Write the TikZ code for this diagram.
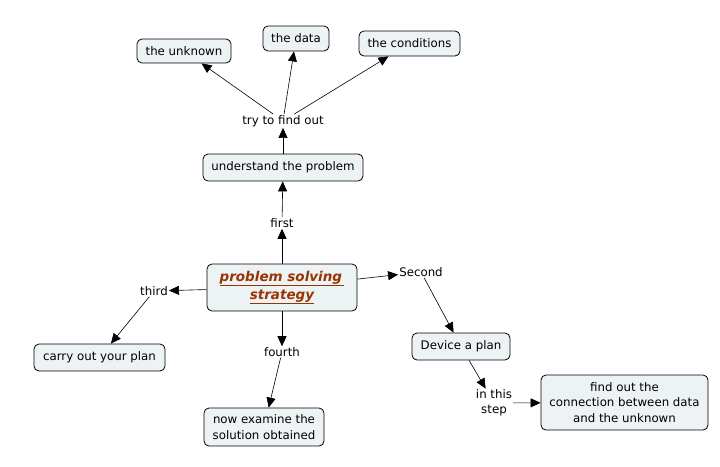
\documentclass[tikz,border=0pt]{standalone}
\usepackage{fontspec}
\setmainfont{DejaVu Sans}
\usetikzlibrary{arrows.meta}
\definecolor{boxfill}{HTML}{EDF3F5}
\definecolor{maintext}{HTML}{993300}
\tikzset{
  concept/.style={draw=black, fill=boxfill, rounded corners=5pt, line width=0.8pt, align=center, inner sep=2pt, font=\fontsize{11.8}{15.3}\selectfont},
  linkph/.style={fill=white, inner sep=1pt, align=center, font=\fontsize{11.8}{15}\selectfont},
  conn/.style={-{Triangle[length=10pt,width=9pt]}, line width=0.6pt},
}
\begin{document}
\begin{tikzpicture}[x=1pt,y=-1pt]
\useasboundingbox (0,0) rectangle (720,466);
% concepts
\node[concept, minimum width=94pt, minimum height=24pt] (unk) at (184,51) {the unknown};
\node[concept, minimum width=66pt, minimum height=25pt] (data) at (296,38.5) {the data};
\node[concept, minimum width=101pt, minimum height=25pt] (cond) at (409.5,43.5) {the conditions};
\node[concept, minimum width=160pt, minimum height=27pt] (und) at (283,167.5) {understand the problem};
\node[concept, minimum width=150pt, minimum height=47pt, font=\fontsize{13.5}{18}\selectfont\bfseries\itshape, text=maintext] (main) at (282,287.5) {\underline{problem solving\,}\\\underline{strategy}};
\node[concept, minimum width=131pt, minimum height=27pt] (carry) at (99.5,357.5) {carry out your plan};
\node[concept, minimum width=98pt, minimum height=27pt] (dev) at (461,346.5) {Device a plan};
\node[concept, minimum width=167pt, minimum height=55pt] (conn) at (624.5,402.5) {find out the\\connection between data\\and the unknown};
\node[concept, minimum width=120pt, minimum height=38pt] (exam) at (264,427) {now examine the\\solution obtained};
% linking phrases
\node[linkph] (try) at (283,121) {try to find out};
\node[linkph] (first) at (282,223) {first};
\node[linkph] (second) at (421,272) {Second};
\node[linkph] (third) at (154,291) {third};
\node[linkph] (fourth) at (282,352) {fourth};
\node[linkph] (step) at (494,403) {in this\\step};
% connectors
\draw[conn] (main) -- (first);
\draw[conn] (first) -- (und);
\draw[conn] (und) -- (try);
\draw[conn] (try) -- (unk);
\draw[conn] (try) -- (data);
\draw[conn] (try) -- (cond);
\draw[conn] (main) -- (second);
\draw[conn] (second) -- (dev);
\draw[conn] (main) -- (third);
\draw[conn] (third) -- (carry);
\draw[conn] (main) -- (fourth);
\draw[conn] (fourth) -- (exam);
\draw[conn] (dev) -- (step);
\draw[conn] (step) -- (conn);
\end{tikzpicture}
\end{document}
